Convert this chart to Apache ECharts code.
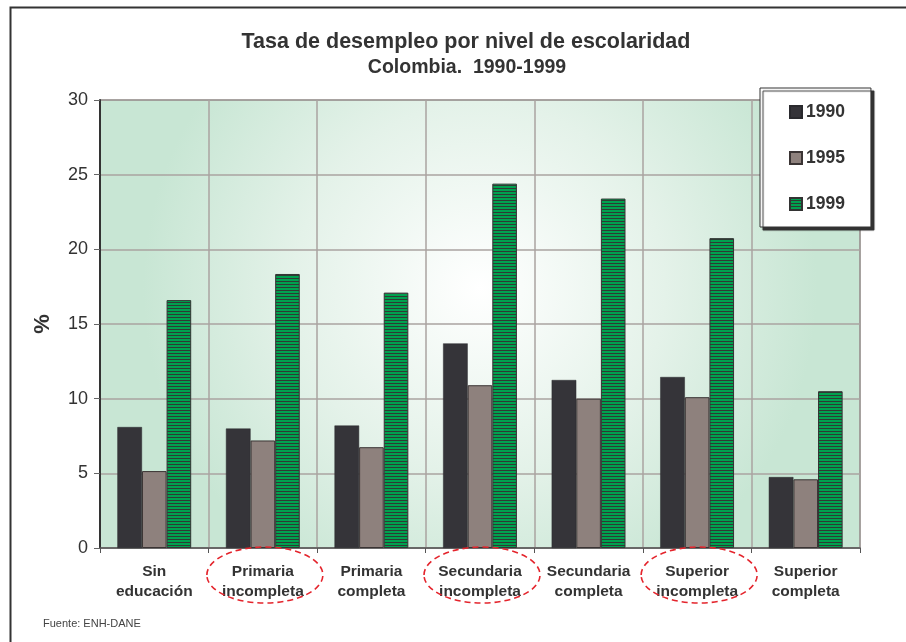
<!DOCTYPE html>
<html>
<head>
<meta charset="utf-8">
<script src="https://cdn.jsdelivr.net/npm/echarts@6/dist/echarts.min.js"></script>
<style>
  html, body { margin: 0; padding: 0; background: #fff; }
  #chart { width: 906px; height: 642px; }
</style>
</head>
<body>
<div id="chart"></div>
<script>
// categorias (nivel de escolaridad)
var categorias = ['Sin\neducación', 'Primaria\nincompleta', 'Primaria\ncompleta',
  'Secundaria\nincompleta', 'Secundaria\ncompleta', 'Superior\nincompleta', 'Superior\ncompleta'];
var anios = ['1990', '1995', '1999'];
var tasa1990 = [8.1, 8.0, 8.2, 13.7, 11.25, 11.45, 4.75];
var tasa1995 = [5.15, 7.2, 6.75, 10.9, 10.0, 10.1, 4.6];
var tasa1999 = [16.6, 18.35, 17.1, 24.4, 23.4, 20.75, 10.5];
var yTicks = [0, 5, 10, 15, 20, 25, 30];
// categorias marcadas con elipse roja
var marcadas = [1, 3, 5];

var FONT = '"Liberation Sans", Arial, sans-serif';

// patron rayado para 1999
function rayas() {
  var c = document.createElement('canvas');
  c.width = 4; c.height = 3;
  var ctx = c.getContext('2d');
  ctx.fillStyle = '#00a14f';
  ctx.fillRect(0, 0, 4, 2);
  ctx.fillStyle = '#2e3b34';
  ctx.fillRect(0, 2, 4, 1);
  return { image: c, repeat: 'repeat' };
}

var chart = echarts.init(document.getElementById('chart'));

var option = {
  animation: false,
  backgroundColor: '#fff',
  title: [{
    text: 'Tasa de desempleo por nivel de escolaridad',
    left: 461, top: 26, textAlign: 'center',
    textStyle: { fontFamily: FONT, fontSize: 21.5, fontWeight: 'bold', color: '#333' }
  }, {
    text: 'Colombia.  1990-1999',
    left: 462, top: 53, textAlign: 'center',
    textStyle: { fontFamily: FONT, fontSize: 19.5, fontWeight: 'bold', color: '#333' }
  }, {
    text: 'Fuente: ENH-DANE',
    left: 38, top: 613,
    textStyle: { fontFamily: FONT, fontSize: 11, fontWeight: 'normal', color: '#444' }
  }],
  legend: {
    orient: 'vertical',
    left: 760, top: 88,
    padding: [15, 26, 14, 29],
    itemGap: 28,
    itemWidth: 12, itemHeight: 12,
    icon: 'rect',
    backgroundColor: '#fff',
    borderColor: '#333',
    borderWidth: 1,
    shadowColor: '#333',
    shadowBlur: 1,
    shadowOffsetX: 3,
    shadowOffsetY: 3,
    textStyle: { fontFamily: FONT, fontSize: 17.5, fontWeight: 'bold', color: '#333', padding: [0, 0, 0, -1] },
    data: anios
  },
  grid: {
    left: 100, top: 100, right: 46, bottom: 94,
    show: true,
    borderColor: '#444',
    borderWidth: 1,
    backgroundColor: {
      type: 'radial', x: 0.5, y: 0.42, r: 0.75,
      colorStops: [
        { offset: 0, color: '#ffffff' },
        { offset: 0.55, color: '#e4f2e9' },
        { offset: 1, color: '#c8e6d4' }
      ]
    }
  },
  xAxis: {
    type: 'category',
    data: categorias,
    axisLine: { lineStyle: { color: '#555', width: 1.5 } },
    axisTick: { show: true, length: 5, lineStyle: { color: '#555' } },
    splitLine: { show: true, lineStyle: { color: '#aaa3a0', width: 1.5 } },
    axisLabel: {
      fontFamily: FONT, fontSize: 15.5, fontWeight: 'bold', color: '#333',
      lineHeight: 20, margin: 14, interval: 0
    }
  },
  yAxis: {
    type: 'value',
    min: 0, max: 30, interval: 5,
    name: '%',
    nameLocation: 'middle',
    nameRotate: 90,
    nameGap: 46,
    nameTextStyle: { fontFamily: FONT, fontSize: 22, fontWeight: 'bold', color: '#333' },
    axisLine: { show: true, lineStyle: { color: '#333', width: 2 } },
    axisTick: { show: true, length: 6, lineStyle: { color: '#666' } },
    splitLine: { show: true, lineStyle: { color: '#aaa3a0', width: 1.5 } },
    axisLabel: {
      fontFamily: FONT, fontSize: 18, color: '#333', margin: 12,
      formatter: function (v) { return yTicks.indexOf(v) >= 0 ? String(v) : ''; }
    }
  },
  series: [{
    name: anios[0], type: 'bar', data: tasa1990,
    barGap: '0%', barCategoryGap: '32%',
    itemStyle: { color: '#353439', borderColor: '#2a2a2e', borderWidth: 0.5 }
  }, {
    name: anios[1], type: 'bar', data: tasa1995,
    itemStyle: { color: '#8e817d', borderColor: '#3a3434', borderWidth: 1 }
  }, {
    name: anios[2], type: 'bar', data: tasa1999,
    itemStyle: { color: rayas(), borderColor: '#333', borderWidth: 1 }
  }]
};

chart.setOption(option);

// elipses rojas punteadas alrededor de las categorias marcadas
var elipses = marcadas.map(function (i) {
  var cx = chart.convertToPixel({ xAxisIndex: 0 }, i);
  var cy = chart.convertToPixel({ yAxisIndex: 0 }, 0) + 27;
  return {
    type: 'ellipse',
    shape: { cx: cx + 2, cy: cy, rx: 58, ry: 28 },
    style: { fill: null, stroke: '#e4242c', lineWidth: 1.6, lineDash: [6, 4] },
    z: 100
  };
});
elipses.push({
  type: 'rect',
  shape: { x: 10.5, y: 7.5, width: 920, height: 660 },
  style: { fill: null, stroke: '#333', lineWidth: 2 },
  z: 100
});
chart.setOption({ graphic: elipses });
</script>
</body>
</html>
